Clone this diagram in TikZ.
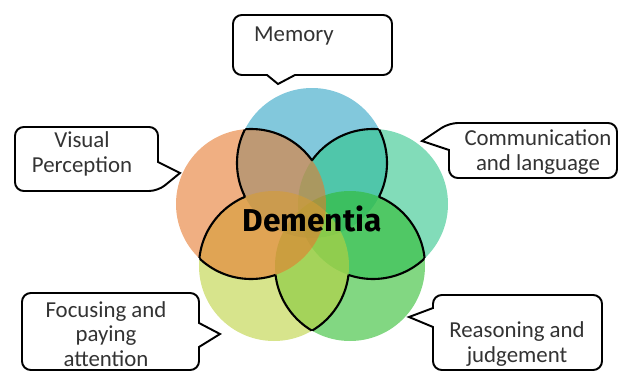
\documentclass[tikz,border=0pt]{standalone}
\usepackage{fontspec}
\setmainfont{Carlito}
\newfontfamily\dementiafont{Fira Sans}
\usepackage{tikz}

\definecolor{memblue}{RGB}{47,163,197}
\definecolor{comteal}{RGB}{47,197,138}
\definecolor{reagreen}{RGB}{47,188,47}
\definecolor{focyellow}{RGB}{188,210,63}
\definecolor{visorange}{RGB}{230,122,47}

\begin{document}
\begin{tikzpicture}[scale=1,
		venn/.style={fill opacity=0.6},
		petal/.style={line width=1.2pt, black},
		callout/.style={line width=1.1pt, black, rounded corners=5pt},
		notin/.style={clip, insert path={(-1,-1) -- (-1,9) -- (14,9) -- (14,-1) -- cycle}},
		txt/.style={align=center, text=black!80, font=\fontsize{13}{14}\selectfont}]
			\useasboundingbox (0,0) rectangle (12.38,7.44);
			
			\coordinate (mem) at (6.24,4.18);
			\coordinate (com) at (7.46,3.36);
			\coordinate (rea) at (7.00,2.12);
			\coordinate (foc) at (5.48,2.12);
			\coordinate (vis) at (5.02,3.36);
			
			\fill[memblue, venn] (mem) circle (1.5);
			\fill[comteal, venn] (com) circle (1.5);
			\fill[reagreen, venn] (rea) circle (1.5);
			\fill[focyellow, venn] (foc) circle (1.5);
			\fill[visorange, venn] (vis) circle (1.5);
			
			%% petals: arcs lying in exactly one neighbour
			\begin{scope}
				\clip (com) circle (1.5);
				\path[notin] (rea) circle (1.5); \path[notin] (foc) circle (1.5); \path[notin] (vis) circle (1.5);
				\draw[petal] (mem) circle (1.5);
			\end{scope}
			\begin{scope}
				\clip (vis) circle (1.5);
				\path[notin] (com) circle (1.5); \path[notin] (rea) circle (1.5); \path[notin] (foc) circle (1.5);
				\draw[petal] (mem) circle (1.5);
			\end{scope}
			\begin{scope}
				\clip (mem) circle (1.5);
				\path[notin] (rea) circle (1.5); \path[notin] (foc) circle (1.5); \path[notin] (vis) circle (1.5);
				\draw[petal] (com) circle (1.5);
			\end{scope}
			\begin{scope}
				\clip (rea) circle (1.5);
				\path[notin] (mem) circle (1.5); \path[notin] (foc) circle (1.5); \path[notin] (vis) circle (1.5);
				\draw[petal] (com) circle (1.5);
			\end{scope}
			\begin{scope}
				\clip (com) circle (1.5);
				\path[notin] (mem) circle (1.5); \path[notin] (foc) circle (1.5); \path[notin] (vis) circle (1.5);
				\draw[petal] (rea) circle (1.5);
			\end{scope}
			\begin{scope}
				\clip (foc) circle (1.5);
				\path[notin] (mem) circle (1.5); \path[notin] (com) circle (1.5); \path[notin] (vis) circle (1.5);
				\draw[petal] (rea) circle (1.5);
			\end{scope}
			\begin{scope}
				\clip (rea) circle (1.5);
				\path[notin] (mem) circle (1.5); \path[notin] (com) circle (1.5); \path[notin] (vis) circle (1.5);
				\draw[petal] (foc) circle (1.5);
			\end{scope}
			\begin{scope}
				\clip (vis) circle (1.5);
				\path[notin] (mem) circle (1.5); \path[notin] (com) circle (1.5); \path[notin] (rea) circle (1.5);
				\draw[petal] (foc) circle (1.5);
			\end{scope}
			\begin{scope}
				\clip (foc) circle (1.5);
				\path[notin] (mem) circle (1.5); \path[notin] (com) circle (1.5); \path[notin] (rea) circle (1.5);
				\draw[petal] (vis) circle (1.5);
			\end{scope}
			\begin{scope}
				\clip (mem) circle (1.5);
				\path[notin] (com) circle (1.5); \path[notin] (rea) circle (1.5); \path[notin] (foc) circle (1.5);
				\draw[petal] (vis) circle (1.5);
			\end{scope}
			
			\node (dementia) at (6.24,3.06) {\dementiafont\bfseries\fontsize{18}{20}\selectfont Dementia};
			
			%% callouts
			\draw[callout] (4.66,6.5) -- (4.66,7.14) -- (7.84,7.14) -- (7.84,5.94) -- (6.2,5.94) [sharp corners] -- (5.90,5.94) -- (5.56,5.76) -- (5.34,5.94) -- (5.0,5.94) [rounded corners=5pt] -- (4.66,5.94) -- cycle;
			\node[txt] (memory) at (5.88,6.72) {Memory};
			
			\draw[callout] (0.30,4.26) -- (0.30,4.90) -- (3.16,4.90) -- (3.16,4.55) [sharp corners] -- (3.16,4.20) -- (3.60,3.98) -- (3.38,3.80) [rounded corners=5pt] -- (3.16,3.62) -- (0.30,3.62) -- cycle;
			\node[txt] (visual) at (1.64,4.36) {Visual\\Perception};
			
			\draw[callout] (10.5,3.88) -- (8.98,3.88) -- (8.98,4.2) [sharp corners] -- (8.98,4.44) -- (8.44,4.62) -- (8.71,4.80) [rounded corners=5pt] -- (8.98,4.98) -- (12.34,4.98) -- (12.34,3.88) -- cycle;
			\node[txt] (communication) at (10.76,4.40) {Communication\\and language};
			
			\draw[callout] (0.44,0.8) -- (0.44,1.58) -- (3.98,1.58) -- (3.98,1.2) [sharp corners] -- (3.98,0.98) -- (4.40,0.76) -- (3.98,0.50) -- (3.98,0.3) [rounded corners=5pt] -- (3.98,0.04) -- (0.44,0.04) -- cycle;
			\node[txt] (focusing) at (2.12,0.76) {Focusing and\\paying\\attention};
			
			\draw[callout] (10,1.54) -- (12.04,1.54) -- (12.04,0.04) -- (8.66,0.04) -- (8.66,0.6) [sharp corners] -- (8.66,0.90) -- (8.18,1.10) -- (8.66,1.28) -- (8.66,1.34) [rounded corners=5pt] -- (8.66,1.54) -- cycle;
			\node[txt] (reasoning) at (10.34,0.56) {Reasoning and\\judgement};
			
		\end{tikzpicture}
\end{document}
